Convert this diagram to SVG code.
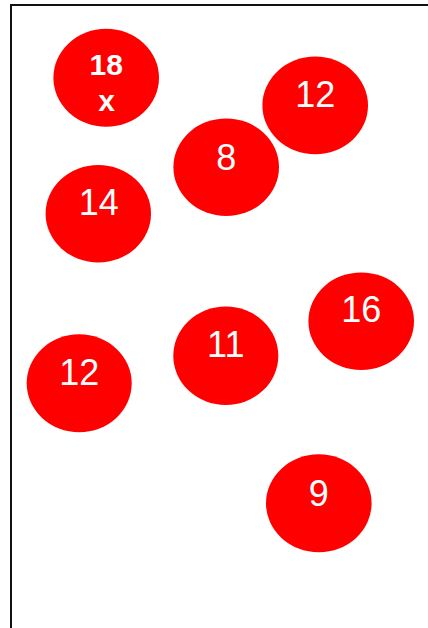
<svg xmlns="http://www.w3.org/2000/svg" width="428" height="628" viewBox="0 0 428 628">
<style>
.n{fill:#ff0000}
.t{fill:#ffffff;font-family:"Liberation Sans",Arial,sans-serif;font-size:36px;text-anchor:middle}
.b{fill:#ffffff;font-family:"Liberation Sans",Arial,sans-serif;font-size:30px;font-weight:bold;text-anchor:middle}
</style>
<rect x="11" y="5" width="520" height="700" fill="#ffffff" stroke="#111111" stroke-width="2"/>
<g id="connectors"></g>
<g id="n18x"><ellipse class="n" cx="106.2" cy="77.8" rx="52.8" ry="49"/><text class="b" x="106.2" y="75">18</text><text class="b" x="106.5" y="110.7">x</text></g>
<g id="n12a"><ellipse class="n" cx="315.2" cy="105.4" rx="52.8" ry="48.8"/><text class="t" x="315.2" y="106.7">12</text></g>
<g id="n8"><ellipse class="n" cx="226.2" cy="167.2" rx="52.8" ry="48.8"/><text class="t" x="226.2" y="169.5">8</text></g>
<g id="n14"><ellipse class="n" cx="98.3" cy="213.7" rx="52.7" ry="48.7"/><text class="t" x="98.8" y="215">14</text></g>
<g id="n16"><ellipse class="n" cx="361.2" cy="321.2" rx="52.8" ry="48.8"/><text class="t" x="361.2" y="322.3">16</text></g>
<g id="n11"><ellipse class="n" cx="225.8" cy="355.8" rx="52.5" ry="49.2"/><text class="t" x="225.8" y="357.3">11</text></g>
<g id="n12b"><ellipse class="n" cx="79.2" cy="383.3" rx="52.5" ry="49"/><text class="t" x="79.2" y="385">12</text></g>
<g id="n9"><ellipse class="n" cx="318.8" cy="503.3" rx="52.8" ry="49"/><text class="t" x="318.8" y="505.5">9</text></g>
</svg>
